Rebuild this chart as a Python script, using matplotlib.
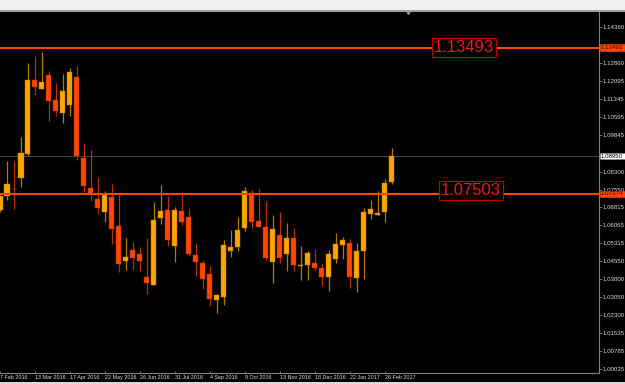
import matplotlib
matplotlib.use("Agg")
import matplotlib.pyplot as plt
from matplotlib.patches import Rectangle
import numpy as np

# ---- data (weekly candles) ----
opens = [1.06674, 1.07281, 1.07574, 1.08048, 1.09053, 1.12153, 1.11776, 1.12349, 1.11302, 1.10770,
         1.11093, 1.12278, 1.08873, 1.07616, 1.07156, 1.06624, 1.07239, 1.06025, 1.04559, 1.05019,
         1.04852, 1.03889, 1.03566, 1.06347, 1.06682, 1.05174, 1.06640, 1.06414, 1.04810, 1.04475,
         1.04002, 1.02925, 1.03051, 1.04990, 1.05145, 1.05954, 1.07394, 1.06222, 1.05970, 1.04529,
         1.05635, 1.04839, 1.05510, 1.04362, 1.04391, 1.04487, 1.04266, 1.03901, 1.04655, 1.05241,
         1.05313, 1.03859, 1.04978, 1.06527, 1.06473, 1.06611, 1.07880]
closes = [1.07281, 1.07784, 1.07554, 1.09082, 1.12128, 1.11847, 1.12056, 1.11273, 1.10842, 1.11667,
          1.12475, 1.08957, 1.07713, 1.07352, 1.06779, 1.07323, 1.05912, 1.04446, 1.04726, 1.04697,
          1.04559, 1.03637, 1.06276, 1.06640, 1.05426, 1.06707, 1.06205, 1.04839, 1.04504, 1.03817,
          1.02954, 1.03122, 1.05241, 1.05145, 1.05857, 1.07491, 1.06180, 1.05995, 1.04697, 1.05899,
          1.04697, 1.05535, 1.04391, 1.04391, 1.04881, 1.04253, 1.03901, 1.04852, 1.05271, 1.05438,
          1.03876, 1.04978, 1.06611, 1.06737, 1.06582, 1.07838, 1.08950]
highs = [1.07323, 1.08747, 1.08747, 1.09753, 1.12840, 1.13158, 1.13325, 1.12517, 1.12014, 1.12391,
         1.12643, 1.12714, 1.09489, 1.09208, 1.08077, 1.07503, 1.07784, 1.07323, 1.05510, 1.05342,
         1.05145, 1.05535, 1.07043, 1.07742, 1.07281, 1.06821, 1.07449, 1.06791, 1.05300, 1.04613,
         1.04362, 1.03176, 1.05438, 1.05857, 1.06402, 1.07658, 1.07533, 1.07574, 1.07072, 1.06485,
         1.06624, 1.06150, 1.05954, 1.05187, 1.04978, 1.05061, 1.04462, 1.05019, 1.05732, 1.05564,
         1.05493, 1.05313, 1.06766, 1.07101, 1.07491, 1.07981, 1.09292]
lows = [1.06611, 1.07093, 1.06724, 1.07646, 1.08969, 1.11512, 1.11763, 1.10435, 1.10645, 1.10352,
        1.10645, 1.08789, 1.07461, 1.07072, 1.06540, 1.06205, 1.05271, 1.04111, 1.04182, 1.04182,
        1.04140, 1.03164, 1.03553, 1.06108, 1.05200, 1.04504, 1.06067, 1.04768, 1.03943, 1.03398,
        1.02674, 1.02393, 1.02716, 1.04739, 1.04978, 1.05828, 1.05928, 1.05983, 1.04613, 1.03650,
        1.04487, 1.04152, 1.04152, 1.03763, 1.03763, 1.04182, 1.03524, 1.03315, 1.04462, 1.04642,
        1.03440, 1.03273, 1.03817, 1.06318, 1.06465, 1.06180, 1.07796]

date_labels = ["7 Feb 2016", "13 Mar 2016", "17 Apr 2016", "22 May 2016", "26 Jun 2016",
               "31 Jul 2016", "4 Sep 2016", "9 Oct 2016", "13 Nov 2016", "18 Dec 2016",
               "22 Jan 2017", "26 Feb 2017"]
date_label_step = 5

ytick_values = [1.14360, 1.12860, 1.12095, 1.11345, 1.10595, 1.09845, 1.08300,
                1.07550, 1.06815, 1.06065, 1.05315, 1.04550, 1.03800, 1.03050, 1.02300, 1.01535,
                1.00785, 1.00035]
ytick_labels = ["1.14360", "1.12860", "1.12095", "1.11345", "1.10595", "1.09845",
                "1.08300", "1.07550", "1.06815", "1.06065", "1.05315", "1.04550",
                "1.03800", "1.03050", "1.02300", "1.01535", "1.00785", "1.00035"]

level_high = 1.13493
level_high_text = "1.13493"
level_low = 1.07374
level_low_text = "1.07503"
level_low_tag = "1.07374"
current_price = 1.08950
current_tag = "1.08950"

# ---- style ----
plt.rcParams["font.family"] = ["Liberation Sans", "DejaVu Sans"]
BULL = "#FFA500"
BEAR = "#FF4500"
BULL_WICK = "#B87800"
BEAR_WICK = "#B83000"
AXCOL = "#808080"
TXT = "#D8D8D8"

W, H = 625, 384
fig = plt.figure(figsize=(W / 100, H / 100), dpi=100, facecolor="black")
ax_top_px, ax_bot_px, ax_right_px = 11.5, 372.7, 598.5
ax = fig.add_axes([0, (H - ax_bot_px) / H, ax_right_px / W, (ax_bot_px - ax_top_px) / H])
ax.set_facecolor("black")

n = len(opens)
x = np.arange(n)
o = np.array(opens); c = np.array(closes); hi = np.array(highs); lo = np.array(lows)
bull = c >= o
body_bottom = np.minimum(o, c)
body_h = np.maximum(np.abs(c - o), 0.00035)
colors = np.where(bull, BULL, BEAR)
wick_cols = np.where(bull, BULL_WICK, BEAR_WICK)

ax.vlines(x, lo, hi, colors=wick_cols, linewidth=0.9, zorder=2)
ax.bar(x, body_h, bottom=body_bottom, width=0.72, color=colors,
       edgecolor=wick_cols, linewidth=0.35, zorder=3)

# limits mapped to pixel layout
ax.set_ylim(0.99880, 1.15009)
ax.set_xlim(0.5 / 7, (ax_right_px + 0.5) / 7)

# horizontal levels
ax.axhline(current_price, color="#3C4450", lw=0.8, zorder=1)
ax.axhline(level_high, color=BEAR, lw=1.5, zorder=4)
ax.axhline(level_low, color=BEAR, lw=1.5, zorder=4)

# level text boxes
ytr = ax.get_yaxis_transform()
box = dict(boxstyle="square,pad=0.12", fc="black", ec="#C00000", lw=0.8)
ax.annotate(level_high_text, xy=(463.7 / ax_right_px, level_high), xycoords=ytr,
            xytext=(0, 0), textcoords="offset points", ha="center", va="center",
            fontsize=12, color="#FF1010", bbox=box, zorder=6)
ax.annotate(level_low_text, xy=(470.5 / ax_right_px, level_low), xycoords=ytr,
            xytext=(0, 2.5), textcoords="offset points", ha="center", va="center",
            fontsize=12, color="#FF1010", bbox=box, zorder=6)

# axis styling
for s in ("top", "left"):
    ax.spines[s].set_visible(False)
ax.spines["right"].set_color(AXCOL)
ax.spines["right"].set_linewidth(0.8)
ax.spines["bottom"].set_color(AXCOL)
ax.spines["bottom"].set_linewidth(0.8)

ax.yaxis.tick_right()
ax.set_yticks(ytick_values)
ax.set_yticklabels(ytick_labels)
ax.tick_params(axis="y", length=2, width=0.6, color=AXCOL, pad=1.2,
               labelsize=4.4, labelcolor=TXT)

xt = np.arange(0, date_label_step * len(date_labels), date_label_step)
ax.set_xticks(xt)
ax.set_xticklabels(date_labels)
for lab in ax.get_xticklabels():
    lab.set_ha("left")
ax.tick_params(axis="x", direction="in", length=1.5, width=0.6, color=AXCOL,
               pad=1.6, labelsize=3.9, labelcolor=TXT)

# right axis price tags
tag_x0 = 599.5 / ax_right_px
tag_w = 25.0 / ax_right_px
tag_h = 6.5 * (1.15009 - 0.99880) / (ax_bot_px - ax_top_px)
for val, txt, fc, tc in [(current_price, current_tag, "white", "black"),
                         (level_high, level_high_text, BEAR, "#3A0800"),
                         (level_low, level_low_tag, BEAR, "#3A0800")]:
    ax.add_patch(Rectangle((tag_x0, val - tag_h / 2), tag_w, tag_h, transform=ytr,
                           fc=fc, ec="#909090" if fc == "white" else fc, lw=0.4,
                           clip_on=False, zorder=7))
    ax.text(tag_x0 + 1.5 / ax_right_px, val, txt, transform=ytr, ha="left", va="center",
            fontsize=4.4, color=tc, clip_on=False, zorder=8)

# chart-shift marker
ax.plot([(407.5 + 0.5) / 7], [1.0], marker="v", ms=3, color="#8A96A6",
        transform=ax.get_xaxis_transform(), clip_on=False, zorder=8)

# window chrome: top strip, bottom strip
fig.add_artist(Rectangle((0, 1 - 10 / H), 1, 10 / H, transform=fig.transFigure,
                         fc="#F0F0F0", ec="none"))
fig.add_artist(Rectangle((0, 1 - 11.5 / H), 1, 1.5 / H, transform=fig.transFigure,
                         fc="#A0A0A0", ec="none"))
fig.add_artist(Rectangle((0, 0), 1, 2.2 / H, transform=fig.transFigure,
                         fc="#D8D8D8", ec="none"))

fig.savefig("out.png", dpi=100, facecolor="black")
